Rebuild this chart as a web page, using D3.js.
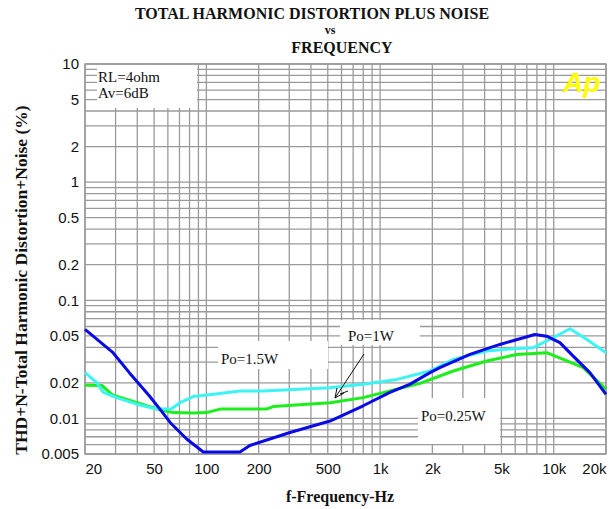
<!DOCTYPE html>
<html>
<head>
<meta charset="utf-8">
<script src="https://cdn.jsdelivr.net/npm/d3@7"></script>
<style>
body { margin: 0; background: #fff; }
svg text { fill: #111; }
</style>
</head>
<body>
<div id="thd-chart"></div>
<script>
// curve data (frequency in Hz, THD+N in %)
var blueFreq = [20, 29, 36, 47, 54, 62, 77, 96, 156, 178, 303, 515, 800, 1140, 1490, 1940, 2210, 3290, 4900, 6390, 7790, 9100, 10850, 12950, 16150, 20000],
	blueThd = [0.0567, 0.036, 0.0244, 0.0155, 0.012, 0.0092, 0.0067, 0.0052, 0.0052, 0.0059, 0.0076, 0.0095, 0.0128, 0.0166, 0.0195, 0.0244, 0.0269, 0.0348, 0.0423, 0.0473, 0.0514, 0.0497, 0.0438, 0.0337, 0.0244, 0.016];

var cyanFreq = [20, 23.4, 25.5, 30.4, 39.7, 51.7, 63, 70.5, 84, 110, 156, 213, 515, 800, 1250, 1940, 2640, 4110, 5850, 7620, 9930, 12400, 15460, 20000],
	cyanThd = [0.0244, 0.0201, 0.0166, 0.015, 0.0132, 0.012, 0.0121, 0.0136, 0.0153, 0.016, 0.0171, 0.0171, 0.0182, 0.0195, 0.0214, 0.0252, 0.0316, 0.0372, 0.0389, 0.0397, 0.0482, 0.0574, 0.0467, 0.036];

var greenFreq = [20, 25, 29, 34.8, 45.3, 54, 64.5, 84, 100, 120, 156, 222, 242, 515, 800, 1250, 1700, 2640, 4110, 6120, 9100, 11340, 14790, 20000],
	greenThd = [0.0191, 0.019, 0.0157, 0.0145, 0.0128, 0.0118, 0.0112, 0.0111, 0.0112, 0.012, 0.012, 0.012, 0.0126, 0.0136, 0.015, 0.0177, 0.0198, 0.0252, 0.0306, 0.0348, 0.036, 0.0316, 0.0269, 0.0177];

var xTicks = [20, 50, 100, 200, 500, 1000, 2000, 5000, 10000, 20000],
	xTickLabels = ["20", "50", "100", "200", "500", "1k", "2k", "5k", "10k", "20k"];
var yTicks = [10, 5, 2, 1, 0.5, 0.2, 0.1, 0.05, 0.02, 0.01, 0.005],
	yTickLabels = ["10", "5", "2", "1", "0.5", "0.2", "0.1", "0.05", "0.02", "0.01", "0.005"];

var width = 615, height = 509;
var plotLeft = 85, plotRight = 606, plotTop = 64, plotBottom = 454;

var serif = "'Liberation Serif', 'DejaVu Serif', serif",
	sans = "'Liberation Sans', Arial, sans-serif";

var svg = d3.select("#thd-chart").append("svg")
	.attr("width", width)
	.attr("height", height);

var x = d3.scaleLog().domain([20, 20000]).range([plotLeft, plotRight]);
var y = d3.scaleLog().domain([0.005, 10]).range([plotBottom, plotTop]);

// grid lines 1..9 per decade
var xGrid = [], yGrid = [];
[10, 100, 1000, 10000].forEach(function(d){
	for(var k = 1; k <= 9; k++){
		var v = d * k;
		if(v >= 20 && v <= 20000) xGrid.push(v);
	}
});
[0.001, 0.01, 0.1, 1].forEach(function(d){
	for(var k = 1; k <= 9; k++){
		var v = +(d * k).toPrecision(3);
		if(v >= 0.005 && v <= 10) yGrid.push(v);
	}
});
yGrid.push(10);

var grid = svg.append("g").attr("class", "grid");
grid.selectAll(".vgrid").data(xGrid).enter()
	.append("line")
	.attr("class", "vgrid")
	.attr("x1", function(d){ return x(d); })
	.attr("x2", function(d){ return x(d); })
	.attr("y1", plotTop)
	.attr("y2", plotBottom)
	.attr("stroke", "#9a9a9a")
	.attr("stroke-width", 1.3);
grid.selectAll(".hgrid").data(yGrid).enter()
	.append("line")
	.attr("class", "hgrid")
	.attr("x1", plotLeft)
	.attr("x2", plotRight)
	.attr("y1", function(d){ return y(d); })
	.attr("y2", function(d){ return y(d); })
	.attr("stroke", "#9a9a9a")
	.attr("stroke-width", 1.3);

svg.append("rect")
	.attr("x", plotLeft).attr("y", plotTop)
	.attr("width", plotRight - plotLeft).attr("height", plotBottom - plotTop)
	.attr("fill", "none")
	.attr("stroke", "#9a9a9a")
	.attr("stroke-width", 1.5);

// white label boxes that hide the grid
var boxes = [
	[97, 65, 100, 43],
	[218, 341, 110, 28],
	[340, 320, 80, 25],
	[418, 398, 82, 46]
];
svg.selectAll(".label-box").data(boxes).enter()
	.append("rect")
	.attr("class", "label-box")
	.attr("x", function(d){ return d[0]; })
	.attr("y", function(d){ return d[1]; })
	.attr("width", function(d){ return d[2]; })
	.attr("height", function(d){ return d[3]; })
	.attr("fill", "#fff");

// axes
var xAxis = d3.axisBottom(x).tickValues(xTicks).tickSize(0)
	.tickFormat(function(d, i){ return xTickLabels[i]; });
var gx = svg.append("g")
	.attr("transform", "translate(0," + (plotBottom + 6) + ")")
	.call(xAxis);
gx.select(".domain").remove();
gx.selectAll("text")
	.attr("font-family", sans)
	.attr("font-size", "15px")
	.attr("fill", "#222")
	.attr("text-anchor", function(d){
		if(d == 20) return "start";
		if(d == 20000) return "end";
		return "middle";
	});

var yAxis = d3.axisLeft(y).tickValues(yTicks).tickSize(0)
	.tickFormat(function(d, i){ return yTickLabels[i]; });
var gy = svg.append("g")
	.attr("transform", "translate(" + (plotLeft - 3) + ",0)")
	.call(yAxis);
gy.select(".domain").remove();
gy.selectAll("text")
	.attr("font-family", sans)
	.attr("font-size", "15px")
	.attr("fill", "#222");

// curves
var line = d3.line()
	.x(function(d){ return x(d[0]); })
	.y(function(d){ return y(d[1]); });

var series = [
	{ name: "green", color: "#1cee1c", data: d3.zip(greenFreq, greenThd) },
	{ name: "cyan", color: "#3cf4f4", data: d3.zip(cyanFreq, cyanThd) },
	{ name: "blue", color: "#0a0ae6", data: d3.zip(blueFreq, blueThd) }
];
svg.selectAll(".curve").data(series).enter()
	.append("path")
	.attr("class", "curve")
	.attr("d", function(d){ return line(d.data); })
	.attr("fill", "none")
	.attr("stroke", function(d){ return d.color; })
	.attr("stroke-width", 3)
	.attr("stroke-linejoin", "round");

// titles
var titles = [
	["TOTAL HARMONIC DISTORTION PLUS NOISE", 312, 19, 16],
	["vs", 330, 34, 12],
	["FREQUENCY", 342, 53, 16]
];
svg.selectAll(".title").data(titles).enter()
	.append("text")
	.attr("class", "title")
	.attr("x", function(d){ return d[1]; })
	.attr("y", function(d){ return d[2]; })
	.attr("text-anchor", "middle")
	.attr("font-family", serif)
	.attr("font-weight", "bold")
	.attr("font-size", function(d){ return d[3] + "px"; })
	.text(function(d){ return d[0]; });

svg.append("text")
	.attr("x", 340).attr("y", 502)
	.attr("text-anchor", "middle")
	.attr("font-family", serif)
	.attr("font-weight", "bold")
	.attr("font-size", "16px")
	.text("f-Frequency-Hz");

svg.append("text")
	.attr("transform", "translate(27,280) rotate(-90)")
	.attr("text-anchor", "middle")
	.attr("font-family", serif)
	.attr("font-weight", "bold")
	.attr("font-size", "17.5px")
	.text("THD+N-Total Harmonic Distortion+Noise  (%)");

// annotations
var notes = [
	["RL=4ohm", 98, 82],
	["Av=6dB", 98, 98],
	["Po=1.5W", 221, 364],
	["Po=1W", 348, 341],
	["Po=0.25W", 421, 421]
];
svg.selectAll(".note").data(notes).enter()
	.append("text")
	.attr("class", "note")
	.attr("x", function(d){ return d[1]; })
	.attr("y", function(d){ return d[2]; })
	.attr("font-family", serif)
	.attr("font-size", "15px")
	.text(function(d){ return d[0]; });

// arrow for Po=1W
svg.append("path")
	.attr("d", "M364,354 L335,398 M335,398 L337,388 M335,398 L344,393 M340,394 L348,391")
	.attr("fill", "none")
	.attr("stroke", "#111")
	.attr("stroke-width", 1);

svg.append("text")
	.attr("x", 563).attr("y", 92)
	.attr("font-family", sans)
	.attr("font-weight", "bold")
	.attr("font-style", "italic")
	.attr("font-size", "28px")
	.style("fill", "#ffff00")
	.text("Ap");
</script>
</body>
</html>
